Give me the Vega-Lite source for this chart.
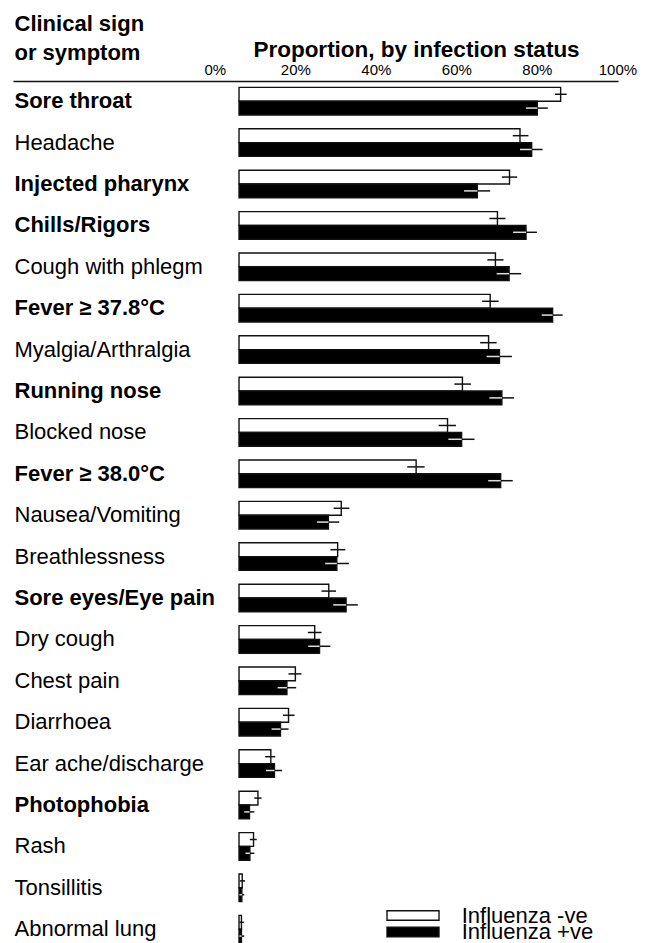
{
  "$schema": "https://vega.github.io/schema/vega-lite/v6.json",
  "autosize": {"type": "none"},
  "padding": {"left": 13, "top": 81, "right": 31, "bottom": 0},
  "width": 605,
  "height": 862,
  "config": {
    "font": "Liberation Sans",
    "view": {"stroke": null},
    "axis": {"grid": false, "labelColor": "#000", "titleColor": "#000"}
  },
  "data": {
    "values": [
      {"symptom": "Sore throat", "status": "Influenza -ve", "p": 0.799, "lo": 0.785, "hi": 0.814},
      {"symptom": "Sore throat", "status": "Influenza +ve", "p": 0.741, "lo": 0.713, "hi": 0.767},
      {"symptom": "Headache", "status": "Influenza -ve", "p": 0.698, "lo": 0.680, "hi": 0.719},
      {"symptom": "Headache", "status": "Influenza +ve", "p": 0.727, "lo": 0.698, "hi": 0.754},
      {"symptom": "Injected pharynx", "status": "Influenza -ve", "p": 0.672, "lo": 0.653, "hi": 0.691},
      {"symptom": "Injected pharynx", "status": "Influenza +ve", "p": 0.592, "lo": 0.559, "hi": 0.624},
      {"symptom": "Chills/Rigors", "status": "Influenza -ve", "p": 0.642, "lo": 0.622, "hi": 0.662},
      {"symptom": "Chills/Rigors", "status": "Influenza +ve", "p": 0.713, "lo": 0.681, "hi": 0.740},
      {"symptom": "Cough with phlegm", "status": "Influenza -ve", "p": 0.637, "lo": 0.617, "hi": 0.657},
      {"symptom": "Cough with phlegm", "status": "Influenza +ve", "p": 0.671, "lo": 0.640, "hi": 0.701},
      {"symptom": "Fever ≥ 37.8°C", "status": "Influenza -ve", "p": 0.624, "lo": 0.604, "hi": 0.645},
      {"symptom": "Fever ≥ 37.8°C", "status": "Influenza +ve", "p": 0.779, "lo": 0.752, "hi": 0.804},
      {"symptom": "Myalgia/Arthralgia", "status": "Influenza -ve", "p": 0.620, "lo": 0.599, "hi": 0.640},
      {"symptom": "Myalgia/Arthralgia", "status": "Influenza +ve", "p": 0.647, "lo": 0.615, "hi": 0.678},
      {"symptom": "Running nose", "status": "Influenza -ve", "p": 0.555, "lo": 0.535, "hi": 0.576},
      {"symptom": "Running nose", "status": "Influenza +ve", "p": 0.653, "lo": 0.622, "hi": 0.683},
      {"symptom": "Blocked nose", "status": "Influenza -ve", "p": 0.518, "lo": 0.496, "hi": 0.539},
      {"symptom": "Blocked nose", "status": "Influenza +ve", "p": 0.553, "lo": 0.520, "hi": 0.585},
      {"symptom": "Fever ≥ 38.0°C", "status": "Influenza -ve", "p": 0.440, "lo": 0.418, "hi": 0.461},
      {"symptom": "Fever ≥ 38.0°C", "status": "Influenza +ve", "p": 0.650, "lo": 0.619, "hi": 0.680},
      {"symptom": "Nausea/Vomiting", "status": "Influenza -ve", "p": 0.254, "lo": 0.235, "hi": 0.274},
      {"symptom": "Nausea/Vomiting", "status": "Influenza +ve", "p": 0.222, "lo": 0.194, "hi": 0.249},
      {"symptom": "Breathlessness", "status": "Influenza -ve", "p": 0.245, "lo": 0.227, "hi": 0.264},
      {"symptom": "Breathlessness", "status": "Influenza +ve", "p": 0.243, "lo": 0.214, "hi": 0.273},
      {"symptom": "Sore eyes/Eye pain", "status": "Influenza -ve", "p": 0.223, "lo": 0.205, "hi": 0.241},
      {"symptom": "Sore eyes/Eye pain", "status": "Influenza +ve", "p": 0.266, "lo": 0.234, "hi": 0.295},
      {"symptom": "Dry cough", "status": "Influenza -ve", "p": 0.188, "lo": 0.171, "hi": 0.205},
      {"symptom": "Dry cough", "status": "Influenza +ve", "p": 0.200, "lo": 0.172, "hi": 0.227},
      {"symptom": "Chest pain", "status": "Influenza -ve", "p": 0.140, "lo": 0.123, "hi": 0.155},
      {"symptom": "Chest pain", "status": "Influenza +ve", "p": 0.119, "lo": 0.096, "hi": 0.142},
      {"symptom": "Diarrhoea", "status": "Influenza -ve", "p": 0.123, "lo": 0.109, "hi": 0.138},
      {"symptom": "Diarrhoea", "status": "Influenza +ve", "p": 0.103, "lo": 0.081, "hi": 0.123},
      {"symptom": "Ear ache/discharge", "status": "Influenza -ve", "p": 0.079, "lo": 0.065, "hi": 0.090},
      {"symptom": "Ear ache/discharge", "status": "Influenza +ve", "p": 0.088, "lo": 0.067, "hi": 0.107},
      {"symptom": "Photophobia", "status": "Influenza -ve", "p": 0.047, "lo": 0.038, "hi": 0.056},
      {"symptom": "Photophobia", "status": "Influenza +ve", "p": 0.026, "lo": 0.013, "hi": 0.038},
      {"symptom": "Rash", "status": "Influenza -ve", "p": 0.036, "lo": 0.027, "hi": 0.044},
      {"symptom": "Rash", "status": "Influenza +ve", "p": 0.027, "lo": 0.016, "hi": 0.038},
      {"symptom": "Tonsillitis", "status": "Influenza -ve", "p": 0.008, "lo": 0.002, "hi": 0.015},
      {"symptom": "Tonsillitis", "status": "Influenza +ve", "p": 0.007, "lo": 0.001, "hi": 0.013},
      {"symptom": "Abnormal lung", "status": "Influenza -ve", "p": 0.006, "lo": 0.001, "hi": 0.012},
      {"symptom": "Abnormal lung", "status": "Influenza +ve", "p": 0.006, "lo": 0.001, "hi": 0.013}
    ]
  },
  "encoding": {
    "y": {
      "field": "symptom",
      "type": "nominal",
      "scale": {
        "domain": ["Sore throat", "Headache", "Injected pharynx", "Chills/Rigors", "Cough with phlegm", "Fever ≥ 37.8°C", "Myalgia/Arthralgia", "Running nose", "Blocked nose", "Fever ≥ 38.0°C", "Nausea/Vomiting", "Breathlessness", "Sore eyes/Eye pain", "Dry cough", "Chest pain", "Diarrhoea", "Ear ache/discharge", "Photophobia", "Rash", "Tonsillitis", "Abnormal lung"],
        "paddingInner": 0.333,
        "paddingOuter": 0.077,
        "align": 1
      },
      "axis": {
        "title": ["Clinical sign", "or symptom"],
        "titleAngle": 0,
        "titleAlign": "left",
        "titleBaseline": "alphabetic",
        "titleX": 1,
        "titleY": -50.3,
        "titleLineHeight": 29.3,
        "titleFontSize": 22,
        "titleFontWeight": "bold",
        "domain": false,
        "ticks": false,
        "tickSize": 0,
        "labelAlign": "left",
        "labelPadding": -1,
        "labelFontSize": 22,
        "labelLimit": 0,
        "labelFontWeight": {
          "condition": {
            "test": "indexof(['Sore throat','Injected pharynx','Chills/Rigors','Fever ≥ 37.8°C','Running nose','Fever ≥ 38.0°C','Sore eyes/Eye pain','Photophobia'], datum.value) >= 0",
            "value": "bold"
          },
          "value": "normal"
        }
      }
    },
    "yOffset": {
      "field": "status",
      "type": "nominal",
      "scale": {"domain": ["Influenza -ve", "Influenza +ve"], "paddingInner": 0, "paddingOuter": 0}
    }
  },
  "layer": [
    {
      "mark": {"type": "bar", "strokeWidth": 1.4},
      "encoding": {
        "x": {
          "field": "p",
          "type": "quantitative",
          "scale": {"domain": [-0.5615, 0.9415], "nice": false, "zero": false},
          "axis": {
            "orient": "top",
            "values": [-0.06, 0.14, 0.34, 0.54, 0.74, 0.94],
            "labelExpr": "format(round((datum.value + 0.06) * 5) * 20, 'd') + '%'",
            "labelFlush": false,
            "labelFontSize": 15,
            "labelPadding": 4,
            "ticks": false,
            "tickSize": 0,
            "domain": true,
            "domainColor": "#111",
            "domainWidth": 1.5,
            "title": "Proportion, by infection status",
            "titleFontSize": 22.5,
            "titleFontWeight": "bold",
            "titleAlign": "center",
            "titleBaseline": "alphabetic",
            "titleX": 403,
            "titleY": -25
          }
        },
        "x2": {"datum": 0},
        "fill": {
          "field": "status",
          "type": "nominal",
          "scale": {"domain": ["Influenza -ve", "Influenza +ve"], "range": ["white", "black"]},
          "legend": {
            "title": null,
            "values": ["Influenza -ve"],
            "orient": "none",
            "legendX": 389,
            "legendY": 823.5,
            "padding": 0,
            "symbolType": "M-5.2,-0.94H5.2V0.94H-5.2Z",
            "symbolSize": 100,
            "symbolStrokeColor": "#111",
            "symbolStrokeWidth": 1.4,
            "labelFontSize": 22,
            "labelColor": "#000",
            "labelOffset": 37.7,
            "labelBaseline": "middle"
          }
        },
        "stroke": {
          "field": "status",
          "type": "nominal",
          "scale": {"domain": ["Influenza +ve", "Influenza -ve"], "range": ["#111", "#111"]},
          "legend": {
            "title": null,
            "values": ["Influenza +ve"],
            "orient": "none",
            "legendX": 389,
            "legendY": 840,
            "padding": 0,
            "symbolType": "M-5.2,-0.94H5.2V0.94H-5.2Z",
            "symbolSize": 100,
            "symbolFillColor": "black",
            "symbolStrokeWidth": 1.4,
            "labelFontSize": 22,
            "labelColor": "#000",
            "labelOffset": 37.7,
            "labelBaseline": "middle",
            "encode": {"symbols": {"update": {"fill": {"value": "black"}, "stroke": {"value": "#111"}}}}
          }
        }
      }
    },
    {
      "mark": {"type": "rule", "color": "#111", "strokeWidth": 1.5},
      "encoding": {
        "x": {"field": "lo", "type": "quantitative"},
        "x2": {"field": "hi"}
      }
    },
    {
      "transform": [{"filter": "datum.status === 'Influenza +ve'"}],
      "mark": {"type": "rule", "color": "#ddd", "strokeWidth": 1.5},
      "encoding": {
        "x": {"field": "lo", "type": "quantitative"},
        "x2": {"field": "p"}
      }
    }
  ]
}
